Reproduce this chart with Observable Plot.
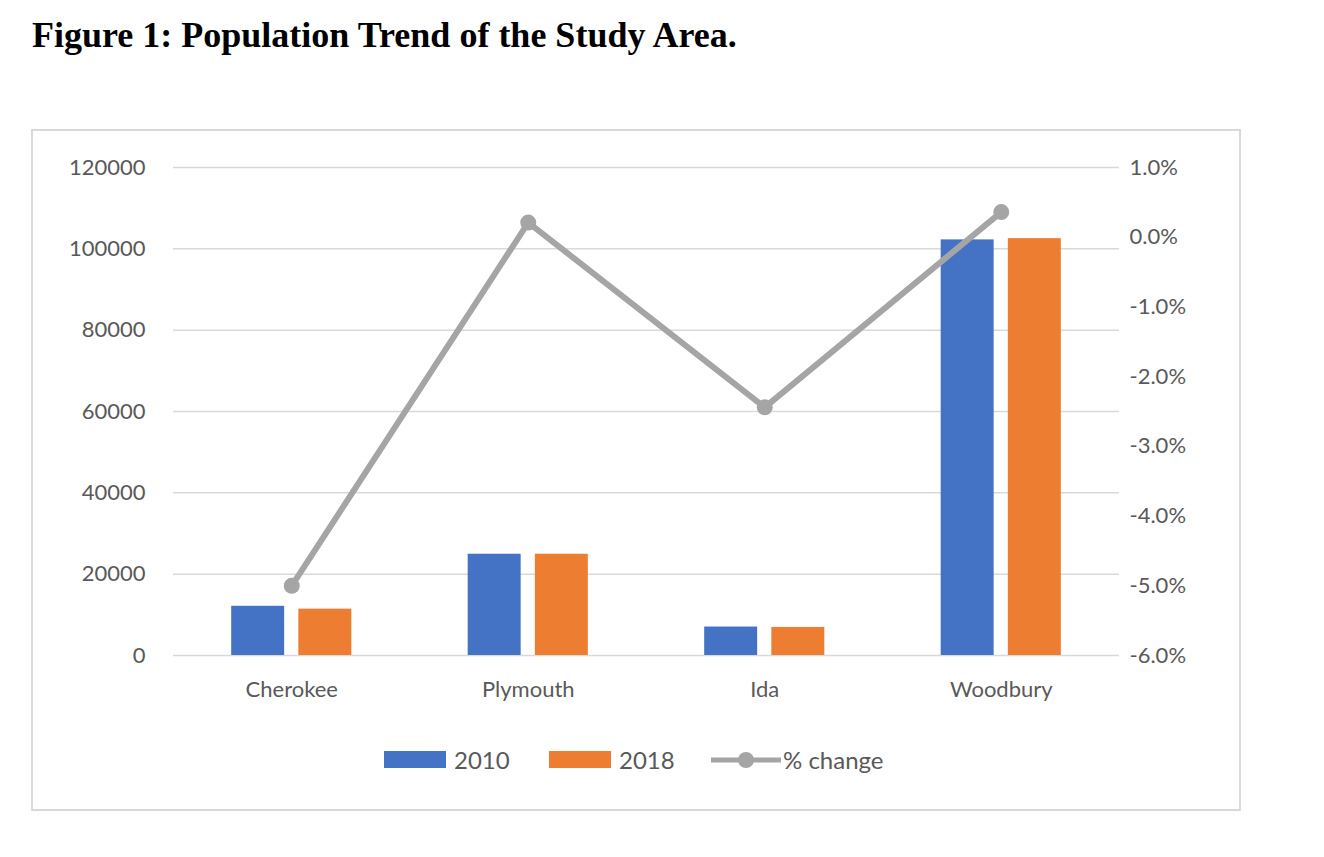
<!DOCTYPE html>
<html>
<head>
<meta charset="utf-8">
<script src="https://cdn.jsdelivr.net/npm/d3@7"></script>
<script src="https://cdn.jsdelivr.net/npm/@observablehq/plot@0.6"></script>
<style>
  body { margin: 0; background: #fff; font-family: Lato, "Open Sans", sans-serif; }
  #title { position: absolute; left: 32px; top: 14px; font: bold 36px "Liberation Serif", serif; color: #000; }
  #box { position: absolute; left: 31px; top: 129px; width: 1206px; height: 678px; border: 2px solid #d9d9d9; }
  #chart { position: absolute; left: 0; top: 0; }
  #legend { position: absolute; top: 614px; left: 0; width: 100%; font-size: 24px; color: #595959; }
  .li { position: absolute; display: flex; align-items: center; }
  .sw { display: inline-block; width: 62px; height: 17px; margin-right: 8px; }
</style>
</head>
<body>
<div id="title">Figure 1: Population Trend of the Study Area.</div>
<div id="box">
  <div id="chart"></div>
  <div id="legend">
    <div class="li" style="left:351px"><span class="sw" style="background:#4472c4"></span>2010</div>
    <div class="li" style="left:516px"><span class="sw" style="background:#ed7d31"></span>2018</div>
    <div class="li" style="left:676px">
      <svg width="74" height="24"><line x1="2" x2="72" y1="12" y2="12" stroke="#a5a5a5" stroke-width="5"/><circle cx="37" cy="12" r="8" fill="#a5a5a5"/></svg>% change
    </div>
  </div>
</div>
<script>
const counties = ["Cherokee", "Plymouth", "Ida", "Woodbury"]
const pop2010 = [12100, 24900, 7000, 102200]
const pop2018 = [11400, 24900, 6900, 102500]
const pctChange = [-5.0, 0.21, -2.44, 0.36]
const leftTicks = [0, 20000, 40000, 60000, 80000, 100000, 120000]
const rightTicks = [-6, -5, -4, -3, -2, -1, 0, 1]

// map % axis (-6..1) onto population axis (0..120000)
const pctToY = p => (p + 6) / 7 * 120000

const bars = counties.flatMap((c, i) => [
  {county: c, year: "2010", x1: i + 0.5 - 0.254, x2: i + 0.5 - 0.030, value: pop2010[i]},
  {county: c, year: "2018", x1: i + 0.5 + 0.030, x2: i + 0.5 + 0.254, value: pop2018[i]}
])
const line = counties.map((c, i) => ({x: i + 0.5, y: pctToY(pctChange[i])}))

const chart = Plot.plot({
  width: 1206, height: 678,
  marginLeft: 140, marginRight: 120, marginTop: 36, marginBottom: 154,
  style: {fontFamily: "Lato, 'Open Sans', sans-serif", fontSize: "22px", color: "#595959"},
  x: {domain: [0, 4], axis: null},
  y: {domain: [0, 120000], axis: null},
  color: {domain: ["2010", "2018"], range: ["#4472c4", "#ed7d31"]},
  marks: [
    Plot.ruleY(leftTicks, {stroke: "#d9d9d9", strokeWidth: 1.5}),
    Plot.rectY(bars, {x1: "x1", x2: "x2", y: "value", fill: "year"}),
    Plot.line(line, {x: "x", y: "y", stroke: "#a5a5a5", strokeWidth: 6}),
    Plot.dot(line, {x: "x", y: "y", r: 8, fill: "#a5a5a5"}),
    Plot.axisY(leftTicks, {anchor: "left", tickSize: 0, tickPadding: 28, label: null, tickFormat: d => String(d), fontSize: 22}),
    Plot.axisY(rightTicks.map(pctToY), {anchor: "right", tickSize: 0, tickPadding: 10, label: null,
      tickFormat: d => (d / 120000 * 7 - 6).toFixed(1) + "%", fontSize: 22}),
    Plot.axisX(counties.map((c, i) => i + 0.5), {tickSize: 0, tickPadding: 26, label: null,
      tickFormat: d => counties[Math.floor(d)], fontSize: 22})
  ]
})
document.getElementById("chart").append(chart)
</script>
</body>
</html>
